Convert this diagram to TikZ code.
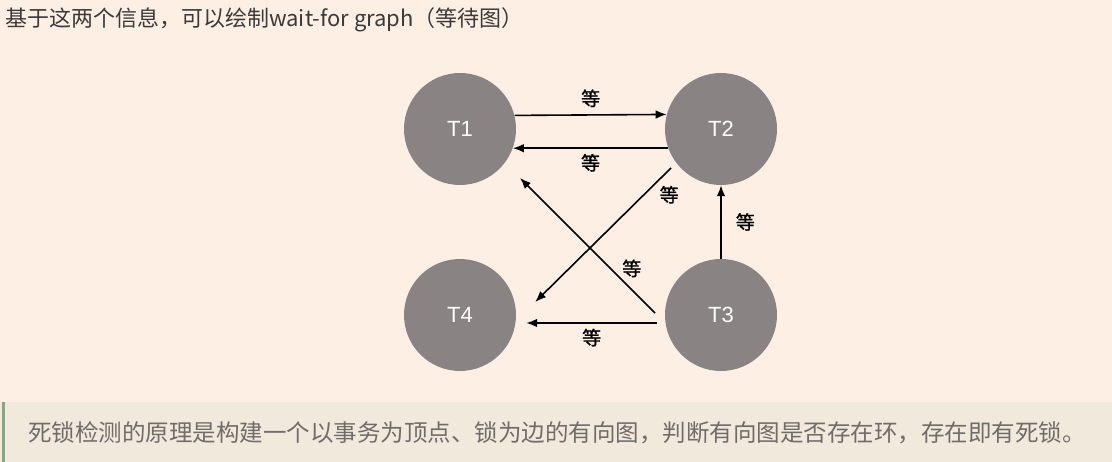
\documentclass[tikz,border=0pt]{standalone}
\usepackage{fontspec}
\setmainfont{Noto Sans CJK SC}
\newfontfamily\tfont{Liberation Sans}
\newfontfamily\waitfont[AutoFakeBold=1.2]{Noto Sans CJK SC}
\usetikzlibrary{calc}
\usetikzlibrary{arrows.meta}
\definecolor{pagebg}{RGB}{253,239,228}
\definecolor{notebg}{RGB}{242,233,221}
\definecolor{notebar}{RGB}{134,168,128}
\definecolor{txgray}{RGB}{138,131,131}
\definecolor{titlegray}{RGB}{58,58,58}
\definecolor{notegray}{RGB}{112,108,104}

\begin{document}
\begin{tikzpicture}[x=1pt,y=-1pt]
\tikzset{txn/.style={circle,fill=txgray,minimum size=112pt,inner sep=0pt,text=white,font=\tfont\fontsize{22}{22}\selectfont}}
\tikzset{waits/.style={-{Latex[length=11pt,width=8.5pt]},line width=1.6pt,black}}
\tikzset{wlabel/.style={font=\waitfont\bfseries\fontsize{19}{19}\selectfont,inner sep=0pt}}
\fill[pagebg] (0,0) rectangle (1112,462);
\fill[notebg] (0,402) rectangle (1112,462);
\fill[notebar] (1.5,402) rectangle (4.5,462);
\useasboundingbox (0,0) rectangle (1112,462);

\node (title) at (5,20) [anchor=west,inner sep=0pt,text=titlegray,font=\fontsize{22}{22}\selectfont] {基于这两个信息，可以绘制wait-for graph（等待图）};
\node (note) at (28,433) [anchor=west,inner sep=0pt,text=notegray,font=\fontsize{23.5}{23.5}\selectfont] {死锁检测的原理是构建一个以事务为顶点、锁为边的有向图，判断有向图是否存在环，存在即有死锁。};

\node (T1) at (460,129) [txn] {T1};
\node (T2) at (721,129) [txn] {T2};
\node (T3) at (721,315) [txn] {T3};
\node (T4) at (460,315) [txn] {T4};

\path
(T1.14.5) edge [waits] node[wlabel,above=7pt] {等} (T2.165.5)
(T2.200) edge [waits] node[wlabel,below=5pt] {等} (T1.-20)
($(T2)+(-50,39)$) edge [waits] node[wlabel,pos=0.2,right=15pt] {等} ($(T4.east)+(19,-13)$)
($(T3)+(-66,-2)$) edge [waits] node[wlabel,pos=0.33,right=11pt] {等} ($(T1)+(60,49)$)
(T3) edge [waits] node[wlabel,right=14pt] {等} (T2)
($(T3)+(-64,8)$) edge [waits] node[wlabel,below=5pt] {等} ($(T4.east)+(10,8)$);
\end{tikzpicture}
\end{document}
